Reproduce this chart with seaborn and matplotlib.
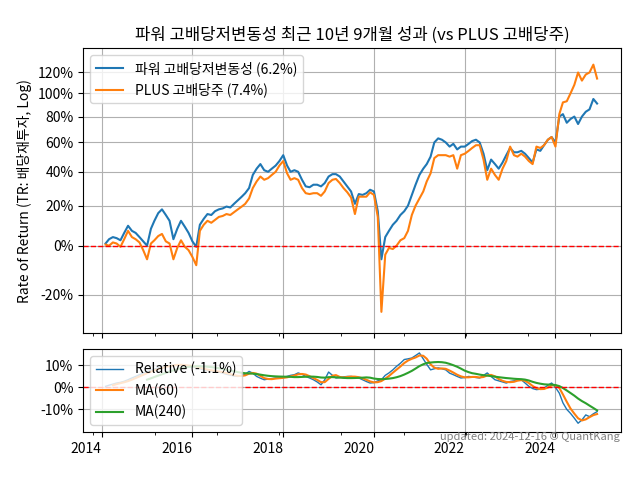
import matplotlib
matplotlib.use('Agg')
import matplotlib.pyplot as plt
import matplotlib.dates as mdates
import matplotlib.ticker as mticker
import numpy as np
import pandas as pd
import seaborn as sns

# 월별 수익률 (%), 2014-02 ~ 2024-12, 그림에서 읽은 값
months = pd.date_range('2014-02-01', '2024-12-01', freq='MS')

power_ret = [
    1, 3, 4, 3.5, 2.5, 6, 9.5, 7, 6, 4, 2,
    0, 8, 12, 16, 18, 15, 12, 3, 8, 12, 9, 6,
    2, -0.5, 10, 13, 15.5, 15, 17, 18, 18.5, 19.5, 19, 21,
    23, 25, 27, 30, 38, 42, 45, 41, 40, 42, 44, 47,
    51, 44, 40, 41, 40, 35, 31, 30.5, 32, 32, 31, 33,
    37, 38.5, 38.5, 37, 34, 31, 28, 21, 26.5, 26, 27, 29,
    28, 17, -6, 4, 7, 10, 12, 15, 17, 20, 26, 32,
    38, 42, 45, 50, 60, 63, 62, 60, 57, 59, 55, 57,
    57, 59, 61, 62, 60, 52, 41, 48, 45, 42, 46, 51,
    56, 53, 53, 54, 52, 49, 46, 55, 54, 58, 62, 64,
    60, 80, 82, 75, 78, 80, 74, 80, 84, 86, 95, 91,
]
plus_ret = [
    0.5, 0, 1.5, 1, -0.5, 3, 7, 4, 3, 1.5, -2,
    -6, 1, 2.5, 4.5, 5.5, 2, 1, -6, -1, 2.5, -0.5, -2,
    -5, -8.5, 7, 10, 12, 11, 12.5, 14, 14.5, 15.5, 15, 16.5,
    18, 19.5, 21, 24, 30, 34, 37, 35, 36, 38, 40, 44,
    47, 39, 35, 36, 35, 30, 27, 26.5, 27, 27, 25.5, 28,
    33, 35, 35.5, 33, 30, 27.5, 24.5, 15.5, 25, 25, 25, 27.5,
    26, 14, -26, -4, -1, -1.5, 0, 2.5, 3.5, 7, 15, 20,
    24, 28, 34, 39, 49, 51, 51, 51, 50, 51, 42, 51,
    52, 54, 56, 58, 58, 48, 35, 42, 38, 35, 42, 47,
    57, 51, 50, 52, 50, 47, 45, 57, 56, 58, 62, 64,
    57, 82, 92, 93, 100, 108, 120, 112, 118, 120, 128, 114,
]
relative = [
    0.5, 1, 1.5, 2, 2.3, 2.8, 3.5, 4.3, 5, 5.8, 6.5,
    7.2, 7.8, 8.3, 9, 9.3, 9.8, 10, 10.3, 10.4, 10.2, 10, 9.7,
    9.5, 9, 8.5, 8, 7.8, 7.5, 7.3, 7, 6.5, 6, 5.6, 5.2,
    5, 5.5, 6, 7.3, 6.5, 5, 4.2, 3.5, 3.8, 4, 4.3, 4.3,
    4.5, 5, 5.5, 5.8, 6.6, 6, 5, 4.3, 3.5, 2.5, 1.2, 3.5,
    7, 5.5, 4.3, 4.5, 4.8, 5, 5, 4.7, 4.3, 3.5, 2.7, 2,
    2.2, 3, 3.5, 5.5, 6.6, 8, 9.6, 11, 12.7, 13, 13.4, 14.5,
    15.7, 13, 10.5, 8, 8.5, 8.9, 8.5, 8, 6.5, 5.8, 5, 4.3,
    4.5, 5, 4.8, 4.5, 4.3, 5.5, 6.6, 5, 3.5, 3, 2.5, 2,
    2.7, 3, 3.5, 3.5, 2, 0.5, -0.5, -1, -0.8, -0.3, 1, 2,
    0, -2.6, -7, -10, -11.8, -14, -16.3, -14.8, -12.5, -13.3, -12, -11,
]

y_ticks = [0.8, 1.0, 1.2, 1.4, 1.6, 1.8, 2.0, 2.2]
rel_ticks = [-0.1, 0, 0.1]

df = pd.DataFrame({
    'date': months,
    'power': 1 + np.array(power_ret) / 100,
    'plus': 1 + np.array(plus_ret) / 100,
    'rel': np.array(relative) / 100,
})
# 60일 ~ 3개월, 240일 ~ 12개월
df['ma60'] = df['rel'].rolling(3).mean()
df['ma240'] = df['rel'].rolling(12).mean()

plt.rcParams['font.family'] = ['Noto Sans CJK KR', 'DejaVu Sans']
plt.rcParams['axes.unicode_minus'] = False

fig, (ax1, ax2) = plt.subplots(2, 1, figsize=(6.4, 4.8), dpi=100, sharex=True,
                               gridspec_kw={'height_ratios': [284, 83], 'hspace': 0.091})

sns.lineplot(data=df, x='date', y='power', ax=ax1, color='C0', lw=1.5,
             label='파워 고배당저변동성 (6.2%)')
sns.lineplot(data=df, x='date', y='plus', ax=ax1, color='C1', lw=1.5,
             label='PLUS 고배당주 (7.4%)')
ax1.axhline(1, color='red', ls='--', lw=1)
ax1.set_yscale('log')
ax1.yaxis.set_major_locator(mticker.FixedLocator(y_ticks))
ax1.yaxis.set_major_formatter(mticker.FuncFormatter(lambda v, p: f'{v - 1:.0%}'))
ax1.yaxis.set_minor_locator(mticker.NullLocator())
ax1.set_ylim(0.673, 2.454)
ax1.grid(True)
ax1.set_xlabel('')
ax1.set_ylabel('Rate of Return (TR: 배당재투자, Log)')
ax1.set_title('파워 고배당저변동성 최근 10년 9개월 성과 (vs PLUS 고배당주)', fontsize=12)
ax1.legend(loc='upper left')

sns.lineplot(data=df, x='date', y='rel', ax=ax2, color='C0', lw=1,
             label='Relative (-1.1%)')
sns.lineplot(data=df, x='date', y='ma60', ax=ax2, color='C1', lw=1.5, label='MA(60)')
sns.lineplot(data=df, x='date', y='ma240', ax=ax2, color='C2', lw=1.5, label='MA(240)')
ax2.axhline(0, color='red', ls='--', lw=1)
ax2.yaxis.set_major_locator(mticker.FixedLocator(rel_ticks))
ax2.yaxis.set_major_formatter(mticker.FuncFormatter(lambda v, p: f'{v:.0%}'))
ax2.set_ylim(-0.205, 0.173)
ax2.grid(True)
ax2.set_xlabel('')
ax2.set_ylabel('')
ax2.legend(loc='upper left')

ax2.xaxis.set_major_locator(mdates.YearLocator(2))
ax2.xaxis.set_major_formatter(mdates.DateFormatter('%Y'))
ax2.xaxis.set_minor_locator(mticker.MultipleLocator(500))
ax2.set_xlim(pd.Timestamp('2013-08-05'), pd.Timestamp('2025-06-15'))
fig.autofmt_xdate(rotation=0, ha='right')
# autofmt_xdate moves the bottom, so set the margins after it
fig.subplots_adjust(left=0.13, right=0.971, top=0.899, bottom=0.099, hspace=0.091)

ax2.text(0.997, 0.0, 'updated: 2024-12-16 © QuantKang', transform=ax2.transAxes,
         ha='right', va='top', fontsize=8, color='gray')

fig.savefig('out.png', dpi=100)
